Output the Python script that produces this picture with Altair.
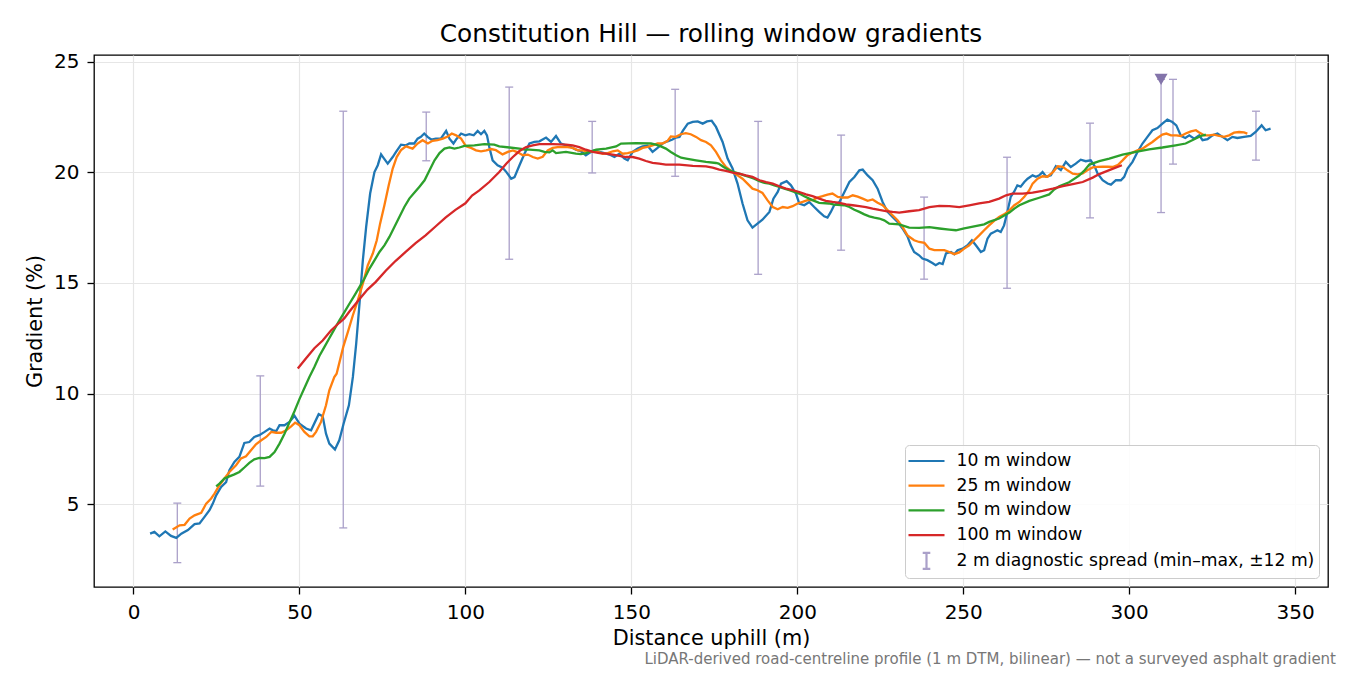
import altair as alt
import pandas as pd

# ---------------- data ----------------
X10 = [5.0, 6.3, 7.8, 9.6, 11.3, 12.9, 14.4, 16.4, 18.4, 19.9, 21.4, 22.9, 23.9, 24.9, 26.4, 27.9, 28.9, 30.4,
       31.9, 33.4, 34.9, 36.4, 37.9, 39.5, 41.0, 42.0, 43.0, 44.0, 45.5, 47.0, 48.5, 50.0, 52.0, 53.5, 55.8, 57.0,
       58.0, 59.0, 60.7, 62.0, 63.3, 64.9, 66.1, 67.1, 68.1, 69.1, 70.1, 71.3, 72.6, 73.6, 74.6, 75.5, 76.6, 78.1,
       79.1, 80.6, 82.1, 83.1, 84.6, 85.6, 86.6, 87.6, 88.6, 89.7, 91.1, 92.6, 94.2, 95.2, 96.4, 97.2, 98.7, 100.0,
       101.2, 102.5, 103.7, 104.7, 105.7, 106.5, 107.2, 108.2, 109.7, 111.2, 112.3, 113.8, 114.8, 116.3, 117.8,
       119.3, 120.8, 122.3, 124.3, 125.8, 127.3, 128.8, 130.3, 131.8, 133.3, 134.8, 136.3, 137.3, 138.8, 140.4,
       141.9, 143.4, 144.9, 146.4, 147.9, 148.9, 150.4, 151.9, 153.4, 154.9, 156.4, 157.9, 159.4, 160.9, 162.4,
       163.4, 164.5, 165.5, 167.0, 168.5, 170.0, 171.5, 172.8, 174.2, 175.5, 177.5, 179.0, 180.5, 182.0, 183.5,
       185.0, 186.5, 188.0, 189.5, 191.6, 192.8, 194.1, 195.1, 196.8, 198.1, 199.6, 200.6, 202.1, 203.6, 205.1,
       206.6, 208.1, 209.1, 210.1, 211.1, 212.7, 214.2, 215.7, 217.2, 218.7, 219.7, 221.2, 222.7, 224.2, 225.7,
       227.2, 228.7, 230.2, 231.7, 233.2, 234.2, 235.2, 236.7, 237.7, 239.2, 240.7, 241.7, 242.8, 243.8, 244.8,
       246.3, 247.3, 248.3, 249.8, 251.3, 252.6, 253.8, 255.3, 256.3, 257.3, 258.3, 259.3, 260.3, 261.3, 262.3,
       263.3, 264.3, 265.3, 266.3, 267.3, 268.4, 269.4, 270.9, 271.9, 272.9, 273.9, 275.0, 276.4, 277.9, 279.4,
       280.9, 282.4, 283.9, 285.4, 286.9, 288.4, 289.5, 290.5, 292.0, 293.5, 294.5, 296.0, 297.5, 298.5, 299.5,
       301.0, 302.5, 304.0, 305.5, 307.0, 308.5, 310.0, 311.5, 313.0, 314.2, 315.6, 316.9, 318.1, 319.6, 321.1,
       322.1, 323.6, 325.1, 326.6, 328.1, 329.6, 331.1, 332.6, 334.6, 336.6, 338.1, 339.9, 341.1, 342.6]
G10 = [3.67, 3.75, 3.55, 3.77, 3.57, 3.48, 3.67, 3.83, 4.10, 4.13, 4.43, 4.73, 5.03, 5.40, 5.78, 6.00, 6.54, 6.91,
       7.14, 7.77, 7.81, 8.04, 8.12, 8.27, 8.42, 8.34, 8.30, 8.57, 8.57, 8.72, 9.00, 8.64, 8.42, 8.34, 9.07, 8.98,
       8.19, 7.74, 7.47, 7.89, 8.64, 9.47, 10.75, 12.26, 14.07, 16.02, 17.53, 19.04, 20.01, 20.32, 20.81, 20.62,
       20.39, 20.69, 20.92, 21.25, 21.22, 21.30, 21.30, 21.52, 21.60, 21.75, 21.60, 21.48, 21.52, 21.52, 21.87,
       21.52, 21.30, 21.48, 21.75, 21.67, 21.72, 21.67, 21.87, 21.72, 21.87, 21.67, 21.14, 20.54, 20.32, 20.21,
       20.02, 19.71, 19.78, 20.32, 20.84, 21.30, 21.37, 21.40, 21.57, 21.37, 21.64, 21.30, 21.22, 21.14, 21.02,
       20.95, 20.77, 20.87, 20.99, 20.92, 20.87, 20.80, 20.69, 20.84, 20.62, 20.54, 20.92, 21.07, 21.17, 21.20,
       20.92, 21.10, 21.30, 21.40, 21.48, 21.57, 21.60, 21.87, 22.20, 22.28, 22.30, 22.20, 22.30, 22.33, 22.05,
       21.37, 20.62, 20.17, 19.49, 18.59, 17.83, 17.50, 17.68, 17.86, 18.21, 18.81, 19.11, 19.49, 19.60, 19.41,
       19.04, 18.59, 18.51, 18.66, 18.43, 18.21, 18.01, 17.95, 18.21, 18.51, 18.66, 19.11, 19.56, 19.79, 20.09,
       20.12, 19.86, 19.64, 19.26, 18.66, 18.21, 17.98, 17.76, 17.46, 17.10, 16.70, 16.40, 16.25, 16.10, 16.03,
       15.90, 15.80, 15.90, 15.85, 16.33, 16.40, 16.30, 16.48, 16.55, 16.70, 16.93, 16.70, 16.40, 16.48, 17.00,
       17.23, 17.30, 17.38, 17.30, 17.60, 18.21, 18.89, 19.11, 19.41, 19.35, 19.56, 19.71, 19.86, 19.80, 19.86,
       20.01, 19.80, 19.86, 20.27, 20.10, 20.47, 20.24, 20.39, 20.57, 20.50, 20.54, 20.30, 19.94, 19.64, 19.49,
       19.44, 19.64, 19.64, 19.79, 20.17, 20.47, 20.92, 21.30, 21.60, 21.90, 22.00, 22.20, 22.38, 22.27, 22.12,
       21.64, 21.55, 21.67, 21.52, 21.67, 21.45, 21.50, 21.67, 21.75, 21.60, 21.45, 21.60, 21.55, 21.60, 21.64,
       21.82, 22.12, 21.90, 21.97]

X25 = [11.8, 13.9, 15.4, 16.9, 18.4, 20.4, 21.9, 23.4, 24.4, 25.9, 27.4, 28.9, 30.9, 32.4, 33.9, 35.4, 36.9, 38.5,
       40.0, 41.5, 43.0, 44.5, 46.0, 47.5, 48.7, 50.0, 51.5, 53.0, 54.0, 55.0, 56.5, 58.0, 59.0, 60.5, 61.2, 62.2,
       63.2, 64.6, 66.1, 67.6, 69.1, 70.6, 72.1, 73.3, 74.3, 75.6, 76.9, 78.1, 79.3, 80.6, 82.1, 84.1, 85.6, 87.1,
       88.7, 90.1, 91.6, 93.2, 94.7, 95.9, 97.2, 98.7, 100.2, 101.7, 103.2, 104.7, 106.3, 107.7, 109.2, 111.2,
       112.8, 114.3, 115.8, 117.3, 118.8, 120.3, 121.8, 123.3, 124.8, 126.3, 127.8, 129.3, 130.8, 132.3, 133.9,
       135.4, 136.9, 138.4, 139.9, 141.4, 142.9, 144.4, 145.9, 147.4, 148.9, 150.4, 151.9, 153.4, 154.9, 156.4,
       157.9, 159.4, 160.9, 161.9, 163.4, 164.9, 166.4, 167.9, 169.5, 171.0, 172.5, 174.0, 175.5, 177.0, 178.5,
       180.5, 182.0, 183.5, 185.0, 186.5, 188.0, 189.5, 191.0, 192.6, 194.1, 195.6, 197.1, 198.6, 200.1, 201.6,
       203.1, 204.6, 206.1, 207.6, 209.1, 210.6, 212.2, 213.7, 215.2, 216.7, 218.2, 219.7, 221.2, 222.7, 224.2,
       225.7, 227.2, 228.7, 230.2, 231.7, 233.2, 235.2, 236.7, 238.3, 239.8, 241.3, 242.8, 244.3, 245.8, 247.3,
       248.8, 250.3, 251.8, 253.3, 254.8, 256.3, 257.8, 259.3, 260.8, 262.3, 263.9, 265.4, 266.9, 268.4, 269.9,
       270.9, 272.4, 273.9, 275.4, 277.0, 278.5, 280.0, 281.4, 283.0, 284.4, 286.0, 287.5, 289.0, 290.5, 292.0,
       293.5, 295.0, 296.5, 298.0, 299.5, 301.0, 302.5, 304.0, 305.5, 307.0, 308.5, 310.0, 311.2, 312.6, 314.2,
       315.6, 317.0, 318.6, 320.1, 321.1, 322.6, 324.1, 325.6, 327.1, 328.6, 330.1, 331.6, 333.1, 334.6, 335.6]
G25 = [3.86, 4.05, 4.07, 4.35, 4.50, 4.61, 5.03, 5.26, 5.48, 5.86, 6.16, 6.46, 6.76, 7.07, 7.17, 7.44, 7.71, 7.89,
       8.04, 8.27, 8.23, 8.23, 8.34, 8.52, 8.69, 8.57, 8.27, 8.07, 8.07, 8.27, 8.72, 9.47, 10.15, 10.75, 10.90,
       11.50, 12.11, 12.79, 13.54, 14.22, 14.97, 15.80, 16.33, 16.93, 17.68, 18.51, 19.41, 20.17, 20.69, 21.00,
       21.17, 21.07, 21.30, 21.45, 21.30, 21.42, 21.45, 21.52, 21.62, 21.75, 21.67, 21.52, 21.17, 21.10, 20.99,
       20.95, 20.99, 21.05, 21.00, 20.81, 20.92, 20.99, 20.90, 20.77, 20.80, 20.69, 20.62, 20.70, 20.99, 21.10,
       21.14, 21.14, 21.14, 21.10, 20.99, 20.99, 20.92, 20.95, 20.92, 20.84, 20.87, 20.95, 20.99, 20.84, 20.87,
       20.92, 20.99, 21.10, 21.15, 21.22, 21.30, 21.30, 21.42, 21.62, 21.60, 21.72, 21.77, 21.72, 21.60, 21.45,
       21.37, 21.22, 20.92, 20.54, 20.24, 20.01, 19.86, 19.71, 19.49, 19.26, 19.19, 19.07, 18.74, 18.43, 18.33,
       18.43, 18.39, 18.47, 18.59, 18.66, 18.74, 18.74, 18.86, 18.92, 18.99, 19.04, 18.89, 18.86, 18.86, 18.96,
       18.90, 18.81, 18.71, 18.77, 18.62, 18.51, 18.29, 18.06, 17.83, 17.53, 17.15, 16.93, 16.85, 16.81, 16.55,
       16.48, 16.48, 16.48, 16.40, 16.30, 16.38, 16.55, 16.70, 16.93, 17.15, 17.38, 17.60, 17.80, 17.98, 18.10,
       18.28, 18.51, 18.66, 18.89, 19.19, 19.49, 19.71, 19.82, 19.80, 20.01, 20.27, 20.25, 20.09, 19.94, 19.91,
       19.95, 20.10, 20.22, 20.24, 20.26, 20.25, 20.24, 20.32, 20.54, 20.77, 20.89, 20.99, 21.07, 21.22, 21.37,
       21.55, 21.70, 21.75, 21.67, 21.67, 21.64, 21.75, 21.85, 21.90, 21.80, 21.67, 21.67, 21.70, 21.64, 21.60,
       21.67, 21.79, 21.82, 21.80, 21.75]

X50 = [24.9, 25.9, 27.4, 28.9, 30.4, 31.9, 33.4, 34.9, 36.4, 37.9, 39.5, 41.0, 42.5, 44.0, 45.5, 47.0, 48.5, 50.0,
       51.5, 53.0, 54.5, 56.0, 57.5, 59.0, 60.5, 62.0, 63.6, 65.1, 66.6, 68.1, 69.6, 71.1, 72.6, 74.1, 75.6, 77.1,
       78.6, 80.1, 81.6, 83.1, 84.6, 86.1, 87.7, 89.2, 90.7, 92.2, 93.7, 95.2, 96.7, 98.2, 99.7, 102.7, 105.7,
       108.7, 110.2, 113.3, 116.3, 117.8, 119.3, 122.3, 123.8, 125.3, 126.3, 127.3, 130.3, 133.3, 134.8, 136.3,
       137.9, 139.4, 142.4, 145.4, 146.9, 151.4, 155.9, 157.4, 158.9, 160.4, 161.9, 163.5, 165.0, 166.5, 169.5,
       172.5, 175.5, 176.3, 177.8, 179.5, 181.0, 182.5, 184.0, 185.5, 187.0, 188.6, 190.1, 191.6, 193.1, 194.6,
       196.1, 197.6, 199.1, 200.6, 202.1, 203.6, 205.1, 206.6, 209.6, 211.1, 214.2, 215.7, 217.2, 218.7, 220.2,
       221.7, 223.2, 224.7, 226.2, 227.7, 230.7, 233.7, 236.7, 239.8, 242.8, 245.8, 247.8, 250.3, 253.3, 256.3,
       257.8, 260.8, 263.9, 265.4, 266.9, 269.9, 272.9, 275.9, 277.4, 278.9, 281.9, 284.9, 286.4, 288.0, 291.0,
       294.0, 298.0, 302.0, 306.0, 310.0, 314.0, 317.0, 319.6, 321.6, 323.1]
G50 = [5.81, 5.93, 6.16, 6.26, 6.35, 6.46, 6.66, 6.87, 7.03, 7.09, 7.08, 7.14, 7.36, 7.74, 8.19, 8.70, 9.20, 9.75,
       10.25, 10.75, 11.20, 11.70, 12.10, 12.50, 12.90, 13.30, 13.69, 14.07, 14.44, 14.82, 15.20, 15.65, 16.02,
       16.40, 16.70, 17.08, 17.53, 17.98, 18.43, 18.81, 19.07, 19.34, 19.64, 20.09, 20.54, 20.87, 21.07, 21.12,
       21.07, 21.12, 21.19, 21.22, 21.27, 21.25, 21.17, 21.12, 21.07, 21.03, 21.02, 20.99, 20.92, 20.90, 20.99,
       20.87, 20.92, 20.84, 20.82, 20.87, 20.95, 21.02, 21.07, 21.17, 21.30, 21.32, 21.30, 21.25, 21.17, 21.07,
       20.92, 20.77, 20.66, 20.62, 20.54, 20.47, 20.42, 20.39, 20.24, 20.09, 20.01, 19.94, 19.86, 19.79, 19.71,
       19.60, 19.52, 19.49, 19.41, 19.34, 19.26, 19.19, 19.11, 19.04, 18.92, 18.81, 18.71, 18.62, 18.59, 18.54,
       18.51, 18.43, 18.31, 18.21, 18.10, 18.01, 17.95, 17.91, 17.83, 17.68, 17.65, 17.50, 17.49, 17.52, 17.46,
       17.41, 17.38, 17.46, 17.56, 17.65, 17.76, 17.91, 18.18, 18.36, 18.51, 18.71, 18.85, 19.00, 19.22, 19.37,
       19.55, 19.85, 20.06, 20.35, 20.50, 20.62, 20.80, 20.92, 21.04, 21.12, 21.22, 21.30, 21.49, 21.64, 21.70]

X100 = [49.5, 52.0, 54.5, 57.0, 59.5, 62.0, 63.5, 65.0, 68.0, 70.5, 73.0, 76.0, 79.0, 82.0, 85.0, 88.0, 91.0, 94.0,
        97.0, 100.0, 102.0, 104.2, 107.2, 110.2, 112.3, 114.3, 116.3, 118.3, 120.3, 122.3, 126.3, 130.3, 132.3,
        134.3, 136.3, 138.4, 140.4, 142.4, 144.4, 146.4, 148.4, 150.4, 152.4, 154.4, 156.4, 158.4, 160.4, 164.5,
        168.5, 172.5, 174.5, 176.5, 178.5, 180.5, 182.5, 184.5, 186.5, 188.6, 190.6, 192.6, 194.6, 196.6, 198.6,
        200.6, 202.6, 204.6, 206.6, 208.6, 210.6, 212.7, 214.7, 216.7, 218.7, 220.7, 222.7, 224.7, 226.7, 228.7,
        230.7, 233.7, 236.7, 239.8, 242.8, 245.8, 248.8, 251.8, 254.8, 257.8, 260.8, 262.9, 264.8, 267.9, 270.9,
        273.9, 277.0, 280.0, 283.0, 286.0, 289.0, 291.0, 294.0, 297.8]
G100 = [11.13, 11.60, 12.05, 12.40, 12.85, 13.20, 13.40, 13.70, 14.25, 14.70, 15.05, 15.55, 16.00, 16.40, 16.80,
        17.15, 17.55, 17.95, 18.30, 18.60, 18.95, 19.18, 19.56, 20.01, 20.39, 20.69, 20.96, 21.14, 21.22, 21.27,
        21.27, 21.25, 21.22, 21.14, 21.02, 20.92, 20.87, 20.84, 20.80, 20.74, 20.69, 20.69, 20.62, 20.51, 20.43,
        20.39, 20.35, 20.35, 20.29, 20.27, 20.21, 20.12, 20.06, 19.98, 19.94, 19.86, 19.79, 19.64, 19.56, 19.49,
        19.37, 19.26, 19.19, 19.11, 19.00, 18.92, 18.81, 18.71, 18.66, 18.62, 18.55, 18.51, 18.47, 18.43, 18.36,
        18.30, 18.25, 18.21, 18.18, 18.24, 18.29, 18.43, 18.48, 18.47, 18.43, 18.51, 18.59, 18.66, 18.81, 18.96,
        19.04, 19.04, 19.08, 19.16, 19.26, 19.37, 19.46, 19.56, 19.76, 19.92, 20.10, 20.32]

# 2 m diagnostic spread (min-max within +-12 m)
BAR_X = [13.2, 38.2, 63.2, 88.2, 113.2, 138.2, 163.2, 188.2, 213.2, 238.2, 263.2, 288.2, 309.6, 313.2, 338.2]
BAR_LO = [2.36, 5.82, 3.93, 20.52, 16.07, 19.97, 19.82, 15.39, 16.48, 15.17, 14.76, 17.94, 18.18, 20.37, 20.55]
BAR_HI = [5.05, 10.80, 22.76, 22.72, 23.85, 22.30, 23.75, 22.30, 21.68, 18.88, 20.68, 22.22, 24.20, 24.20, 22.76]

MAX_X = [309.6]
MAX_G = [24.2]

SERIES = ["10 m window", "25 m window", "50 m window", "100 m window"]
ERR_LABEL = "2 m diagnostic spread (min–max, ±12 m)"
COLORS = ["#1f77b4", "#ff7f0e", "#2ca02c", "#d62728", "#aaa0c9"]

TITLE = "Constitution Hill — rolling window gradients"
X_TITLE = "Distance uphill (m)"
Y_TITLE = "Gradient (%)"
FOOTER = "LiDAR-derived road-centreline profile (1 m DTM, bilinear) — not a surveyed asphalt gradient"
X_TICKS = [0, 50, 100, 150, 200, 250, 300, 350]
Y_TICKS = [5, 10, 15, 20, 25]

# ---------------- build tables ----------------
frames = []
for name, xs, gs in zip(SERIES, [X10, X25, X50, X100], [G10, G25, G50, G100]):
    frames.append(pd.DataFrame({"x": xs, "g": gs, "series": name, "order": range(len(xs))}))
lines_df = pd.concat(frames, ignore_index=True)

bars_df = pd.DataFrame({"x": BAR_X, "lo": BAR_LO, "hi": BAR_HI, "series": ERR_LABEL})
max_df = pd.DataFrame({"x": MAX_X, "g": MAX_G})
foot_df = pd.DataFrame({"t": [FOOTER]})

FONT = "DejaVu Sans"
W, H = 1234, 532
DOMAIN = SERIES + [ERR_LABEL]

xscale = alt.Scale(domain=[-11.9, 359.9], nice=False, zero=False)
yscale = alt.Scale(domain=[1.26, 25.3], nice=False, zero=False)
xenc = alt.X("x:Q", scale=xscale, axis=alt.Axis(values=X_TICKS, title=X_TITLE, format="d"))

# legend symbols: a 36px stroke for the windows, an "I" for the diagnostic spread
LINE_PATH = "M-1.25,0H2.35"
BAR_PATH = "M0.55,-0.8V0.8M0.17,-0.8H0.93M0.17,0.8H0.93"

legend = alt.Legend(
    title=None, orient="bottom-right", offset=9, padding=4.5,
    fillColor="rgba(255,255,255,0.85)", strokeColor="#cccccc", cornerRadius=4,
    labelFont=FONT, labelFontSize=17.2, labelColor="black", labelLimit=700,
    labelOffset=24, symbolSize=400, rowPadding=4.7,
    symbolFillColor="transparent", symbolStrokeWidth=2.2, symbolOpacity=1,
)
color = alt.Color("series:N", scale=alt.Scale(domain=DOMAIN, range=COLORS), legend=legend)
shape = alt.Shape("series:N", scale=alt.Scale(domain=DOMAIN, range=[LINE_PATH] * 4 + [BAR_PATH]), legend=legend)

rules = alt.Chart(bars_df).mark_rule(strokeWidth=1.3).encode(
    x=xenc,
    y=alt.Y("lo:Q", scale=yscale, axis=alt.Axis(values=Y_TICKS, title=Y_TITLE, format="d")),
    y2="hi:Q",
    color=color,
)
caps_lo = alt.Chart(bars_df).mark_point(shape="stroke", size=64, strokeWidth=1.3, color=COLORS[4], opacity=1).encode(
    x="x:Q", y="lo:Q")
caps_hi = alt.Chart(bars_df).mark_point(shape="stroke", size=64, strokeWidth=1.3, color=COLORS[4], opacity=1).encode(
    x="x:Q", y="hi:Q")

# invisible layer that only feeds the legend its symbol shapes
legend_feed = alt.Chart(bars_df).mark_point(opacity=0, filled=False).encode(
    x="x:Q", y="lo:Q", color=color, shape=shape)

lines = alt.Chart(lines_df).mark_line(strokeWidth=2.3).encode(
    x="x:Q", y="g:Q", color=color, order="order:Q")

maxpt = alt.Chart(max_df).mark_point(shape="triangle-down", filled=True, size=170, color="#8374aa", opacity=1).encode(
    x="x:Q", y="g:Q")

footer = alt.Chart(foot_df).mark_text(align="right", baseline="middle", font=FONT, fontSize=15,
                                      color="#777777").encode(
    text="t:N", x=alt.value(W + 8), y=alt.value(H + 72))

chart = alt.layer(rules, caps_lo, caps_hi, legend_feed, lines, maxpt, footer).properties(
    width=W, height=H,
    autosize=alt.AutoSizeParams(type="none"),
    padding={"left": 86, "top": 47, "right": 10, "bottom": 80},
    title=alt.TitleParams(text=TITLE, font=FONT, fontSize=24.8, fontWeight="normal", color="black",
                          anchor="middle", offset=5),
).configure_view(stroke="black", strokeWidth=1.3).configure_axis(
    domain=False, grid=True, gridColor="#e6e6e6", gridWidth=1.2,
    tickColor="black", tickSize=7, tickWidth=1.3,
    labelFont=FONT, labelFontSize=20, labelColor="black", labelPadding=8,
    titleFont=FONT, titleFontSize=20.8, titleFontWeight="normal", titleColor="black",
).configure_axisX(titlePadding=6).configure_axisY(titlePadding=8)

chart.save("out.html", embed_options={"renderer": "svg", "actions": False})
